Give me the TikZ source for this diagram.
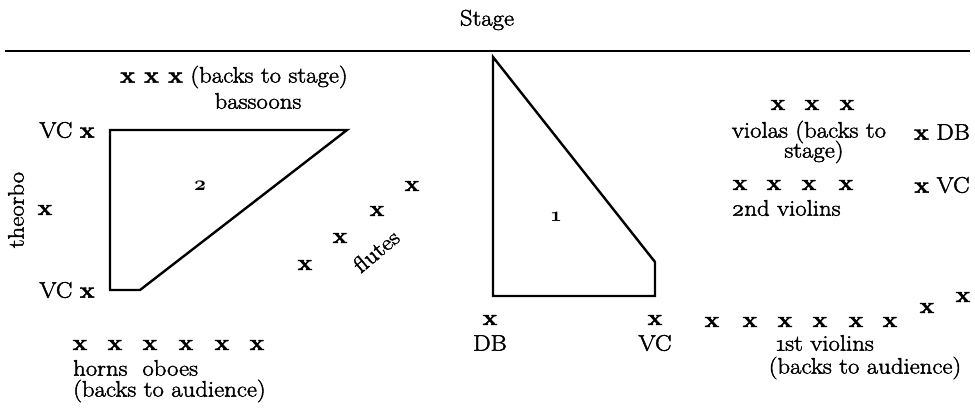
\documentclass[tikz,border=0pt]{standalone}
\usepackage{fontspec}
\setmainfont{Latin Modern Roman}[FakeBold=2,FakeStretch=1.1]
\usepackage{tikz}
\newcommand{\boldosn}[1]{{\usefont{OML}{cmm}{b}{it}#1}}
\begin{document}
\begin{tikzpicture}[x=1pt,y=-1pt,
  lbl/.style={inner sep=0pt, font=\fontsize{22.5}{25}\selectfont},
  mk/.style={inner sep=0pt, font=\fontsize{22.5}{25}\selectfont\bfseries},
  outline/.style={line width=2.4pt, line join=miter, line cap=butt}]
\useasboundingbox (0,0) rectangle (975,410);
% stage
\node[lbl] (stage) at (487,20) {Stage};
\draw[line width=2.2pt] (5,51) -- (970,51);
% section 2
\draw[outline] (110,130) -- (347,130) -- (140,290) -- (110,290) -- cycle;
\node[lbl] (two) at (200,186) {\boldosn{2}};
\node[lbl] (bassA) at (234,77) {\textbf{x x x} (backs to stage)};
\node[lbl] (bassB) at (258,101) {bassoons};
\node[lbl] (vc1) at (67,130) {VC \textbf{x}};
\node[lbl] (vc2) at (67,290) {VC \textbf{x}};
\node[lbl,rotate=90] (theorbo) at (16,210) {theorbo};
\node[mk] (th) at (45,210) {x};
% flutes
\node[mk] (f1) at (412,186) {x};
\node[mk] (f2) at (377,211) {x};
\node[mk] (f3) at (340,238) {x};
\node[mk] (f4) at (305,265) {x};
\node[lbl,rotate=40] (flutes) at (376,251) {flutes};
% horns / oboes
\foreach \i/\xx in {1/80,2/115,3/150,4/186,5/222,6/257}
  \node[mk] (h\i) at (\xx,345) {x};
\node[lbl,anchor=west] (horns) at (73,368) {horns\ \ oboes};
\node[lbl,anchor=west] (hback) at (73,391) {(backs to audience)};
% section 1
\draw[outline] (493,57) -- (655,262) -- (655,296) -- (493,296) -- cycle;
\node[lbl] (one) at (556,217) {\boldosn{1}};
\node[mk] (dbx) at (490,320) {x};
\node[lbl] (db) at (490,343) {DB};
\node[mk] (vcx) at (655,320) {x};
\node[lbl] (vc) at (655,343) {VC};
% 1st violins
\foreach \i/\xx/\yy in {1/712/322,2/750/322,3/785/322,4/820/322,5/856/322,6/890/322,7/927/308,8/963/297}
  \node[mk] (v\i) at (\xx,\yy) {x};
\node[lbl] (vio1) at (825,343) {\oldstylenums{1}st violins};
\node[lbl] (vio1b) at (865,368) {(backs to audience)};
% violas
\foreach \i/\xx in {1/778,2/812,3/847}
  \node[mk] (va\i) at (\xx,105) {x};
\node[lbl] (violas) at (809,132) {violas (backs to};
\node[lbl] (violasb) at (814,152) {stage)};
\node[lbl] (dbr) at (942,132) {\textbf{x} DB};
% 2nd violins
\foreach \i/\xx in {1/740,2/774,3/809,4/846}
  \node[mk] (w\i) at (\xx,185) {x};
\node[lbl] (vcr) at (942,185) {\textbf{x} VC};
\node[lbl] (vio2) at (786,208) {\oldstylenums{2}nd violins};
\end{tikzpicture}
\end{document}
